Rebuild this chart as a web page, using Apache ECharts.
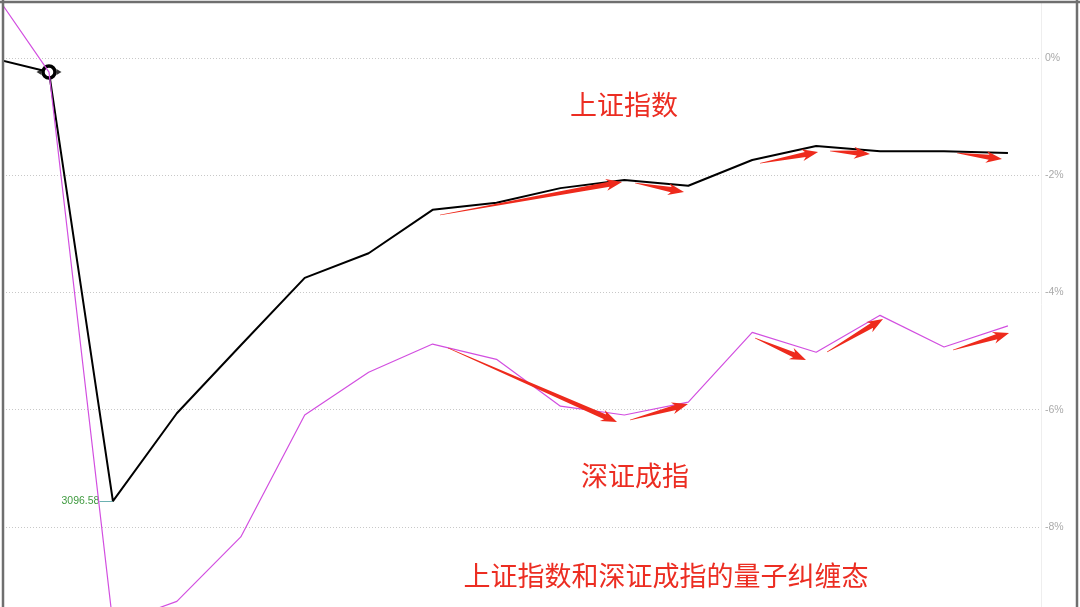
<!DOCTYPE html>
<html>
<head>
<meta charset="utf-8">
<script src="https://cdn.jsdelivr.net/npm/echarts@6/dist/echarts.min.js"></script>
<style>
html,body{margin:0;padding:0;background:#fff;}
#chart{width:1080px;height:607px;}
</style>
</head>
<body>
<div id="chart"></div>
<script>
// x positions are trading-period indices
const idx = [0,1,2,3,4,5,6,7,8,9,10,11,12,13,14,15,16];
// 上证指数 percent change
const shValues = [0.03,-0.24,-7.56,-6.06,-4.90,-3.75,-3.33,-2.59,-2.47,-2.22,-2.08,-2.18,-1.74,-1.50,-1.59,-1.59,-1.62];
// 深证成指 percent change
const szValues = [1.34,-0.24,-9.66,-9.27,-8.17,-6.09,-5.36,-4.88,-5.14,-5.94,-6.09,-5.87,-4.68,-5.02,-4.39,-4.93,-4.57];
const yTicks = [-8,-6,-4,-2,0];
const lowLabel = '3096.58';
// red arrow annotations in data units: [x1, y1, x2, y2]
const shArrows = [
  [7.116,-2.678,9.963,-2.115],
  [10.166,-2.132,10.933,-2.286],
  [12.122,-1.796,13.03,-1.603],
  [13.216,-1.586,13.842,-1.638],
  [15.203,-1.620,15.907,-1.723]
];
const szArrows = [
  [7.241,-4.947,9.885,-6.209],
  [10.088,-6.175,10.995,-5.902],
  [12.043,-4.776,12.841,-5.151],
  [13.170,-5.015,14.046,-4.452],
  [15.141,-4.981,16.017,-4.691]
];

const sh = idx.map((x,i)=>[x, shValues[i]]);
const sz = idx.map((x,i)=>[x, szValues[i]]);
sh[1] = {value: sh[1], symbol:'circle', symbolSize:12,
  itemStyle:{color:'#fff', borderColor:'#000', borderWidth:3.5}};
sh[2] = {value: sh[2], symbol:'circle', symbolSize:1, itemStyle:{color:'#000'},
  label:{show:true, position:'left', distance:0,
  formatter:'{a|'+lowLabel+'}{b|—}',
  rich:{a:{color:'#3f9a3f', fontSize:10.5, fontFamily:'Liberation Sans'}, b:{color:'#5aa8a8', fontSize:13}}}};

function arrowItem(params, api){
  const p1 = api.coord([api.value(0), api.value(1)]);
  const p2 = api.coord([api.value(2), api.value(3)]);
  const dx = p2[0]-p1[0], dy = p2[1]-p1[1];
  const L = Math.hypot(dx,dy);
  const ux = dx/L, uy = dy/L, nx = -uy, ny = ux;
  const head = 13, hw = 6, sw = 2.6, back = 3;
  const b = [p2[0]-ux*head, p2[1]-uy*head];
  const bb = [p2[0]-ux*(head+back), p2[1]-uy*(head+back)];
  const pts = [
    [p1[0]+nx*0.3, p1[1]+ny*0.3],
    [b[0]+nx*sw, b[1]+ny*sw],
    [bb[0]+nx*hw, bb[1]+ny*hw],
    [p2[0], p2[1]],
    [bb[0]-nx*hw, bb[1]-ny*hw],
    [b[0]-nx*sw, b[1]-ny*sw],
    [p1[0]-nx*0.3, p1[1]-ny*0.3]
  ];
  return {type:'polygon', shape:{points:pts}, style:{fill:'#ee2a1c'}};
}

const chart = echarts.init(document.getElementById('chart'), null, {renderer:'canvas'});
chart.setOption({
  animation:false,
  backgroundColor:'#fff',
  grid:{left:3, right:39, top:2, bottom:0, containLabel:false},
  xAxis:{type:'value', min:0.2805, max:16.517, show:false},
  yAxis:{type:'value', position:'right', min:-9.365, max:0.955, splitNumber:5,
    axisLine:{show:true, lineStyle:{color:'#eeeeee', width:1}},
    axisTick:{show:false},
    splitLine:{show:true, lineStyle:{color:'#c8c8c8', type:[1,2], width:1}},
    axisLabel:{color:'#aaaaaa', fontSize:10.5, margin:4, fontFamily:'Liberation Sans',
      showMinLabel:false, showMaxLabel:false,
      formatter:function(v){ return yTicks.indexOf(Math.round(v*1000)/1000)>=0 ? v+'%' : ''; }}
  },
  series:[
    {type:'line', data:sh, symbol:'none', showSymbol:true, z:3,
      lineStyle:{color:'#000', width:2}},
    {type:'line', data:sz, symbol:'none', showSymbol:false, z:4,
      lineStyle:{color:'#d24fe0', width:1.2}},
    {type:'scatter', data:[[idx[1], shValues[1]]], symbol:'triangle', symbolRotate:90,
      symbolSize:[6,5], symbolOffset:[-10,0], itemStyle:{color:'#000'}, z:6, silent:true},
    {type:'scatter', data:[[idx[1], shValues[1]]], symbol:'triangle', symbolRotate:-90,
      symbolSize:[6,5], symbolOffset:[10,0], itemStyle:{color:'#000'}, z:6, silent:true},
    {type:'custom', data:shArrows.concat(szArrows), renderItem:arrowItem,
      encode:{x:[0,2], y:[1,3]}, z:5, clip:false}
  ],
  graphic:[
    {type:'text', z:10, x:624, y:105, style:{text:'上证指数', fill:'#ec2d22', font:'27px "Noto Sans CJK SC"', align:'center', verticalAlign:'middle'}},
    {type:'text', z:10, x:635, y:476, style:{text:'深证成指', fill:'#ec2d22', font:'27px "Noto Sans CJK SC"', align:'center', verticalAlign:'middle'}},
    {type:'text', z:10, x:666, y:576, style:{text:'上证指数和深证成指的量子纠缠态', fill:'#ec2d22', font:'27px "Noto Sans CJK SC"', align:'center', verticalAlign:'middle'}},
    {type:'line', z:20, shape:{x1:3, y1:0, x2:3, y2:607}, style:{stroke:'#6f6f6f', lineWidth:2.5}},
    {type:'line', z:20, shape:{x1:0, y1:2, x2:1080, y2:2}, style:{stroke:'#6f6f6f', lineWidth:2.5}},
    {type:'line', z:20, shape:{x1:1077, y1:0, x2:1077, y2:607}, style:{stroke:'#6f6f6f', lineWidth:2.5}}
  ]
});
</script>
</body>
</html>
